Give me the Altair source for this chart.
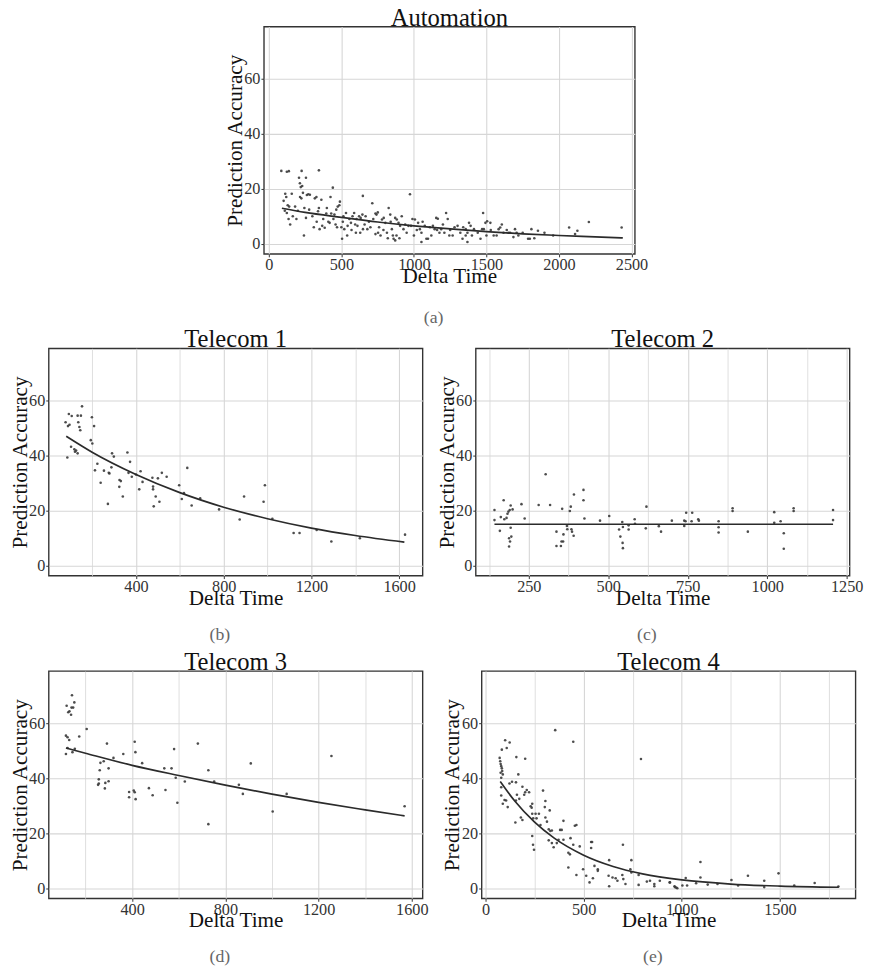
import altair as alt
import pandas as pd

# ---------------- data ----------------
# Automation scatter (delta time, prediction accuracy)
auto_pts = [
    (86, 26.5), (124, 26.2), (138, 26.4), (226, 26.5), (345, 26.7),
    (102, 15.6), (113, 18.2), (120, 17), (158, 18.2), (140, 13.5), (124, 11.2), (136, 9), (147, 7), (181, 13.5),
    (208, 24), (214, 22), (220, 20.6), (215, 17), (224, 16.5), (230, 21), (235, 18.5), (256, 24), (242, 3),
    (262, 17.7), (272, 18), (283, 17.8), (256, 9.4), (278, 12.4), (317, 16.5), (328, 17), (339, 11.8),
    (362, 16), (350, 5.3), (368, 6.5), (385, 5.8), (396, 11), (425, 17), (441, 20.4), (419, 7.6),
    (452, 10.6), (465, 12.4), (475, 13.5), (486, 14), (460, 7), (470, 6), (490, 15.3), (514, 10),
    (520, 5.3), (505, 1.8), (532, 11.2), (543, 6.5), (566, 7.6), (577, 10), (588, 11.2), (600, 4),
    (611, 6.5), (622, 10), (633, 9.4), (645, 10.6), (648, 17.4), (649, 5.3), (667, 10), (679, 5.3),
    (713, 14.7), (735, 11), (742, 10.6), (751, 11.4), (735, 3.5), (753, 4), (780, 8.8), (792, 9.4),
    (803, 7.6), (814, 4), (826, 13), (837, 10.6), (848, 5.3), (860, 1.8), (871, 1.2), (871, 9.4),
    (882, 8.8), (894, 7.6), (905, 6.5), (916, 10), (928, 5.3), (973, 18), (962, 6.5), (980, 6.5),
    (1007, 8.8), (1029, 7.6), (1041, 5.3), (1052, 4), (1052, 0.6), (1075, 6.5), (1086, 1.8), (1097, 1.8),
    (1131, 6.5), (1143, 5.3), (1154, 9.4), (1165, 9.1), (1176, 4), (1188, 5.3), (1222, 11.2), (1233, 9),
    (1244, 3), (1267, 3), (1301, 6.5), (1335, 1.8), (1357, 5.3), (1369, 4), (1380, 7.6), (1391, 6.5),
    (1369, 0.6), (1357, 3), (1414, 5.3), (1459, 1.8), (1470, 5.3), (1482, 5.3), (1477, 11.2), (1493, 7.6),
    (1505, 8.2), (1527, 7.6), (1550, 3), (1584, 5.3), (1595, 5.9), (1606, 7), (1618, 4), (1652, 4),
    (1663, 4), (1686, 2.4), (1697, 5.3), (1708, 4), (1787, 1.8), (1799, 1.8), (1810, 5.3), (1855, 4.7),
    (1900, 4), (2070, 5.9), (2111, 3.5), (2127, 4.7), (2206, 7.9), (2432, 5.9),
    (110, 12), (130, 14), (165, 10), (190, 9), (200, 12), (245, 13), (300, 10), (310, 6), (330, 8),
    (345, 13), (375, 9), (400, 13), (410, 8), (430, 11), (445, 9), (500, 6), (510, 8), (540, 3),
    (555, 9), (570, 5), (595, 7), (605, 9), (630, 4), (660, 7), (690, 8), (700, 6), (720, 9), (760, 6),
    (770, 3), (790, 5), (820, 2), (840, 8), (855, 3), (880, 3), (900, 2), (940, 7), (950, 4), (990, 9),
    (1000, 3), (1020, 5), (1060, 8), (1110, 6), (1120, 3), (1160, 5), (1200, 7), (1210, 4), (1250, 5),
    (1280, 6), (1320, 4), (1340, 6), (1400, 3), (1440, 4), (1500, 3), (1530, 5), (1570, 3), (1640, 5),
    (1720, 3), (1750, 4), (1830, 2), (1960, 3),
]
auto_fit = [(90, 12.9), (250, 11.4), (500, 9.6), (750, 7.9), (1000, 6.5), (1250, 5.4),
            (1500, 4.4), (1750, 3.6), (2000, 3.0), (2250, 2.5), (2440, 2.1)]

# Telecom 1
t1_pts = [
    (79, 52.1), (87, 39.3), (90, 50.7), (97, 51.2), (94, 55.1), (107, 54.4), (104, 43.2),
    (119, 42.3), (127, 41.8), (134, 40.8), (122, 41.4), (134, 54.5), (149, 54.5), (137, 52.1),
    (142, 50.4), (146, 49.2), (154, 57.9), (199, 53.9), (209, 50.7), (194, 45.6), (201, 44.4),
    (213, 34.6), (224, 37), (239, 30.1), (254, 34.5), (272, 22.4), (276, 33.7), (279, 33.5),
    (288, 35.7), (291, 40.8), (299, 39.6), (325, 31.1), (331, 30.7), (324, 28.6), (340, 25.1),
    (361, 41.1), (373, 37.7), (366, 33.7), (381, 32.3), (400, 33.1), (415, 27.7), (421, 34.3),
    (430, 30.4), (475, 31.9), (478, 28.7), (478, 27.7), (481, 21.5), (490, 25.1), (500, 31.7),
    (507, 23.2), (518, 33.7), (540, 32.3), (597, 29.2), (609, 24.2), (619, 26.3), (634, 35.5),
    (654, 21.8), (693, 24.4), (779, 20.4), (873, 16.7), (893, 25.1), (982, 23.2), (988, 29.2),
    (1022, 17.0), (1119, 11.8), (1146, 11.8), (1224, 12.9), (1291, 8.7), (1421, 9.9), (1627, 11.2),
]
t1_fit = [(82, 47), (200, 41.2), (400, 33.1), (600, 26.5), (800, 21.2), (1000, 17.0),
          (1200, 13.6), (1400, 10.9), (1624, 8.5)]

# Telecom 2
t2_pts = [
    (142, 20.2), (142, 16.5), (159, 12.6), (162, 17.6), (171, 23.7), (173, 16.8), (180, 17.3),
    (183, 18.8), (186, 19.6), (190, 20.2), (193, 21.8), (199, 20.4), (188, 9.9), (191, 8.7),
    (195, 10.5), (188, 6.9), (193, 13.7), (227, 22.3), (237, 17.1), (281, 22), (303, 33.2),
    (317, 22), (337, 12.3), (337, 7.1), (351, 7.1), (355, 20.6), (353, 8.7), (358, 8.7),
    (359, 11.3), (370, 14.4), (371, 13.2), (379, 19.8), (382, 21.4), (384, 13.2), (386, 12.3),
    (391, 10.8), (392, 25.8), (422, 27.5), (422, 23.7), (425, 17.1), (474, 16.3), (503, 18),
    (534, 13.1), (538, 10.5), (544, 15.8), (546, 14), (545, 8.2), (546, 6.3), (564, 14.6),
    (564, 13.1), (583, 16.8), (584, 15.2), (618, 13.5), (620, 21.4), (659, 14.3), (666, 12.3),
    (700, 16.3), (739, 16.3), (743, 16.1), (739, 14.4), (745, 19.2), (762, 16.1), (764, 19.2),
    (783, 16.8), (785, 16.3), (847, 16.1), (847, 13.9), (847, 12.0), (891, 20.8), (891, 19.8),
    (939, 12.3), (1022, 19.4), (1022, 15.5), (1042, 16.1), (1052, 11.7), (1052, 6.1),
    (1083, 20.8), (1083, 19.8), (1207, 20.2), (1207, 16.5),
]
t2_fit = [(142, 15.0), (1207, 15.0)]

# Telecom 3
t3_pts = [
    (142, 70.2), (152, 67.6), (119, 66.4), (126, 64), (131, 64.4), (138, 63.1), (140, 65.7),
    (147, 65.7), (116, 55.5), (123, 54.9), (130, 53.9), (173, 55.2), (205, 57.9), (116, 48.8),
    (123, 51), (144, 49.5), (154, 50.7), (292, 52.6), (320, 47.4), (362, 48.8), (264, 45.6),
    (261, 42.9), (278, 46.2), (299, 43.6), (257, 39.6), (257, 38.1), (254, 37.6), (285, 38.3),
    (283, 36.3), (299, 38.9), (411, 53.3), (414, 49.5), (387, 35), (407, 35.5), (411, 34.9),
    (387, 33.1), (415, 32.4), (443, 45.5), (472, 36.4), (488, 33.8), (538, 43.6), (569, 43.6),
    (543, 35.7), (580, 50.6), (587, 40.2), (594, 31.1), (626, 38.8), (682, 52.6), (727, 42.9),
    (727, 23.3), (752, 38.8), (858, 37.6), (875, 34.3), (909, 45.4), (1003, 27.9), (1063, 34.3),
    (1255, 48.1), (1569, 29.8),
]
t3_fit = [(116, 51), (200, 49.1), (400, 44.7), (600, 41), (800, 37.5), (1000, 34.2),
          (1200, 31.2), (1400, 28.5), (1569, 26.3)]

# Telecom 4
t4_pts = [
    (355, 57.5), (447, 53.3), (792, 47), (100, 53.8), (123, 53), (83, 50.4), (108, 51),
    (72, 47.4), (75, 46.2), (77, 45.2), (80, 44.4), (83, 43.6), (85, 42.6), (88, 41.4), (77, 42),
    (157, 47.7), (202, 47.1), (167, 41.4), (80, 40.2), (80, 36.7), (122, 38.1), (135, 38.7),
    (155, 38.5), (188, 36.9), (210, 35.7), (222, 34.9), (80, 33.7), (97, 32.1), (105, 31.9),
    (88, 30.7), (113, 29.5), (160, 34), (172, 32.5), (155, 31.9), (197, 34), (202, 34.9),
    (293, 35.5), (305, 31.7), (302, 29.5), (327, 28.3), (230, 29.8), (238, 30.7), (235, 29.3),
    (152, 23.9), (180, 25.7), (188, 24.8), (238, 27.1), (255, 27.1), (272, 27.1), (243, 25.4),
    (260, 25.4), (238, 19), (242, 15.8), (247, 14), (280, 23), (305, 25.7), (313, 24.2),
    (322, 21.4), (330, 20.8), (338, 21), (380, 21.2), (388, 21.2), (397, 24.5), (322, 17.4),
    (338, 16.4), (347, 14.9), (363, 16.4), (372, 17.6), (397, 17.6), (422, 12.9), (430, 12.3),
    (433, 18.2), (447, 15.8), (455, 22.7), (463, 23), (480, 15.2), (422, 7.5), (463, 4.8),
    (497, 6.9), (513, 4.5), (530, 2.1), (538, 16.8), (543, 16.8), (538, 14.6), (547, 3.6),
    (555, 8.1), (572, 6.3), (572, 6.9), (630, 10.2), (627, 4.5), (630, 0.7), (647, 3.9),
    (663, 3.6), (672, 2.7), (700, 15.8), (697, 4.8), (702, 3.3), (713, 1.5), (743, 10.2),
    (738, 6.9), (743, 5.7), (780, 4.8), (780, 1.2), (822, 2.4), (838, 2.7), (860, 1.5),
    (860, 0.7), (888, 2.7), (938, 2.1), (972, 0.2), (963, 0.7),
    (940, 2.1), (965, 0.4), (977, 0.0), (1003, 1.0), (1027, 1.0), (1020, 3.7), (1073, 1.8),
    (1095, 9.5), (1095, 3.9), (1132, 1.3), (1182, 1.5), (1253, 3.0), (1287, 1.0), (1337, 4.5),
    (1420, 2.7), (1420, 0.4), (1493, 5.4), (1573, 1.0), (1677, 1.9), (1798, 0.6),
]
t4_fit = [(75, 38.8), (150, 31.6), (250, 24.0), (350, 18.2), (500, 12.0), (650, 7.9),
          (800, 5.2), (1000, 3.0), (1250, 1.5), (1500, 0.76), (1800, 0.33)]

# axis setup per panel: (x domain, grid/tick values, labelled step)
auto_axis = ([-34, 2523], list(range(0, 2501, 250)), 500)
t1_axis = ([2, 1707], list(range(200, 1601, 200)), 400)
t2_axis = ([83, 1259], list(range(125, 1251, 125)), 250)
t3_axis = ([42, 1646], list(range(200, 1601, 200)), 400)
t4_axis = ([-20, 1885], list(range(0, 1751, 250)), 500)
y_domain = [-3.7, 79.0]
y_values = list(range(0, 71, 10))

SERIF = "Liberation Serif"
W, H = 380, 231


def cond(test, a, b):
    return {"condition": {"test": test, "value": a}, "value": b}


def panel(title, caption, pts, fit, axis, w, h, cap_dy):
    xdom, xvals, xstep = axis
    df = pd.DataFrame(pts, columns=["x", "y"])
    lf = pd.DataFrame(fit, columns=["x", "y"])
    xmaj = f"datum.value % {xstep} === 0"
    ymaj = "datum.value % 20 === 0"
    xenc = alt.X(
        "x:Q",
        scale=alt.Scale(domain=xdom, nice=False, zero=False),
        axis=alt.Axis(
            title="Delta Time", values=xvals, format="d",
            labelExpr=f"{xmaj} ? datum.label : ''",
            tickOpacity=cond(xmaj, 1, 0),
            gridWidth=cond(xmaj, 1.1, 0.8),
            labelPadding=0, titleBaseline="alphabetic", titleY=29,
        ),
    )
    yenc = alt.Y(
        "y:Q",
        scale=alt.Scale(domain=y_domain, nice=False, zero=False),
        axis=alt.Axis(
            title="Prediction Accuracy", values=y_values, format="d",
            labelExpr=f"{ymaj} ? datum.label : ''",
            tickOpacity=cond(ymaj, 1, 0),
            gridWidth=cond(ymaj, 1.1, 0.8),
            labelPadding=1, titleBaseline="alphabetic", titleX=-23,
        ),
    )
    points = alt.Chart(df).mark_circle(size=7, color="#3a3a3a", opacity=0.9).encode(x=xenc, y=yenc)
    line = alt.Chart(lf).mark_line(color="#2b2b2b", strokeWidth=1.7, interpolate="monotone").encode(
        x="x:Q", y="y:Q")
    cap = alt.Chart(pd.DataFrame({"t": [caption]})).mark_text(
        font=SERIF, fontSize=18, color="#666666", baseline="middle", align="center"
    ).encode(x=alt.value(w / 2 - 16), y=alt.value(h + cap_dy), text="t:N")
    return alt.layer(points, line, cap).properties(
        width=w, height=h,
        title=alt.TitleParams(text=title, anchor="middle", frame="group",
                              baseline="alphabetic", offset=-24),
    )


pa = panel("Automation", "(a)", auto_pts, auto_fit, auto_axis, 377, H, 65)
pb = panel("Telecom 1", "(b)", t1_pts, t1_fit, t1_axis, W, H, 60)
pc = panel("Telecom 2", "(c)", t2_pts, t2_fit, t2_axis, W, H, 60)
pd_ = panel("Telecom 3", "(d)", t3_pts, t3_fit, t3_axis, W, H, 60)
pe = panel("Telecom 4", "(e)", t4_pts, t4_fit, t4_axis, W, H, 60)

row2 = alt.hconcat(pb, pc, spacing=12)
row3 = alt.hconcat(pd_, pe, spacing=12)
lower = alt.vconcat(row2, row3, spacing=5)
chart = alt.vconcat(pa, lower, spacing=-1, center=True).properties(
    padding={"left": 0, "top": -11, "right": 0, "bottom": 0}
).configure_view(
    stroke="#333333", strokeWidth=1.4
).configure_axis(
    labelFont=SERIF, labelFontSize=16.5, labelColor="#333333",
    titleFont=SERIF, titleFontSize=21.5, titleFontWeight="normal", titleColor="#111111",
    tickColor="#333333", tickSize=3, domain=False, gridColor="#d6d6d6",
    labelOverlap=False, labelFlush=False,
).configure_title(
    font=SERIF, fontSize=25, fontWeight="normal", color="#111111"
)

chart.save("out.html", embed_options={"renderer": "svg", "actions": False})
